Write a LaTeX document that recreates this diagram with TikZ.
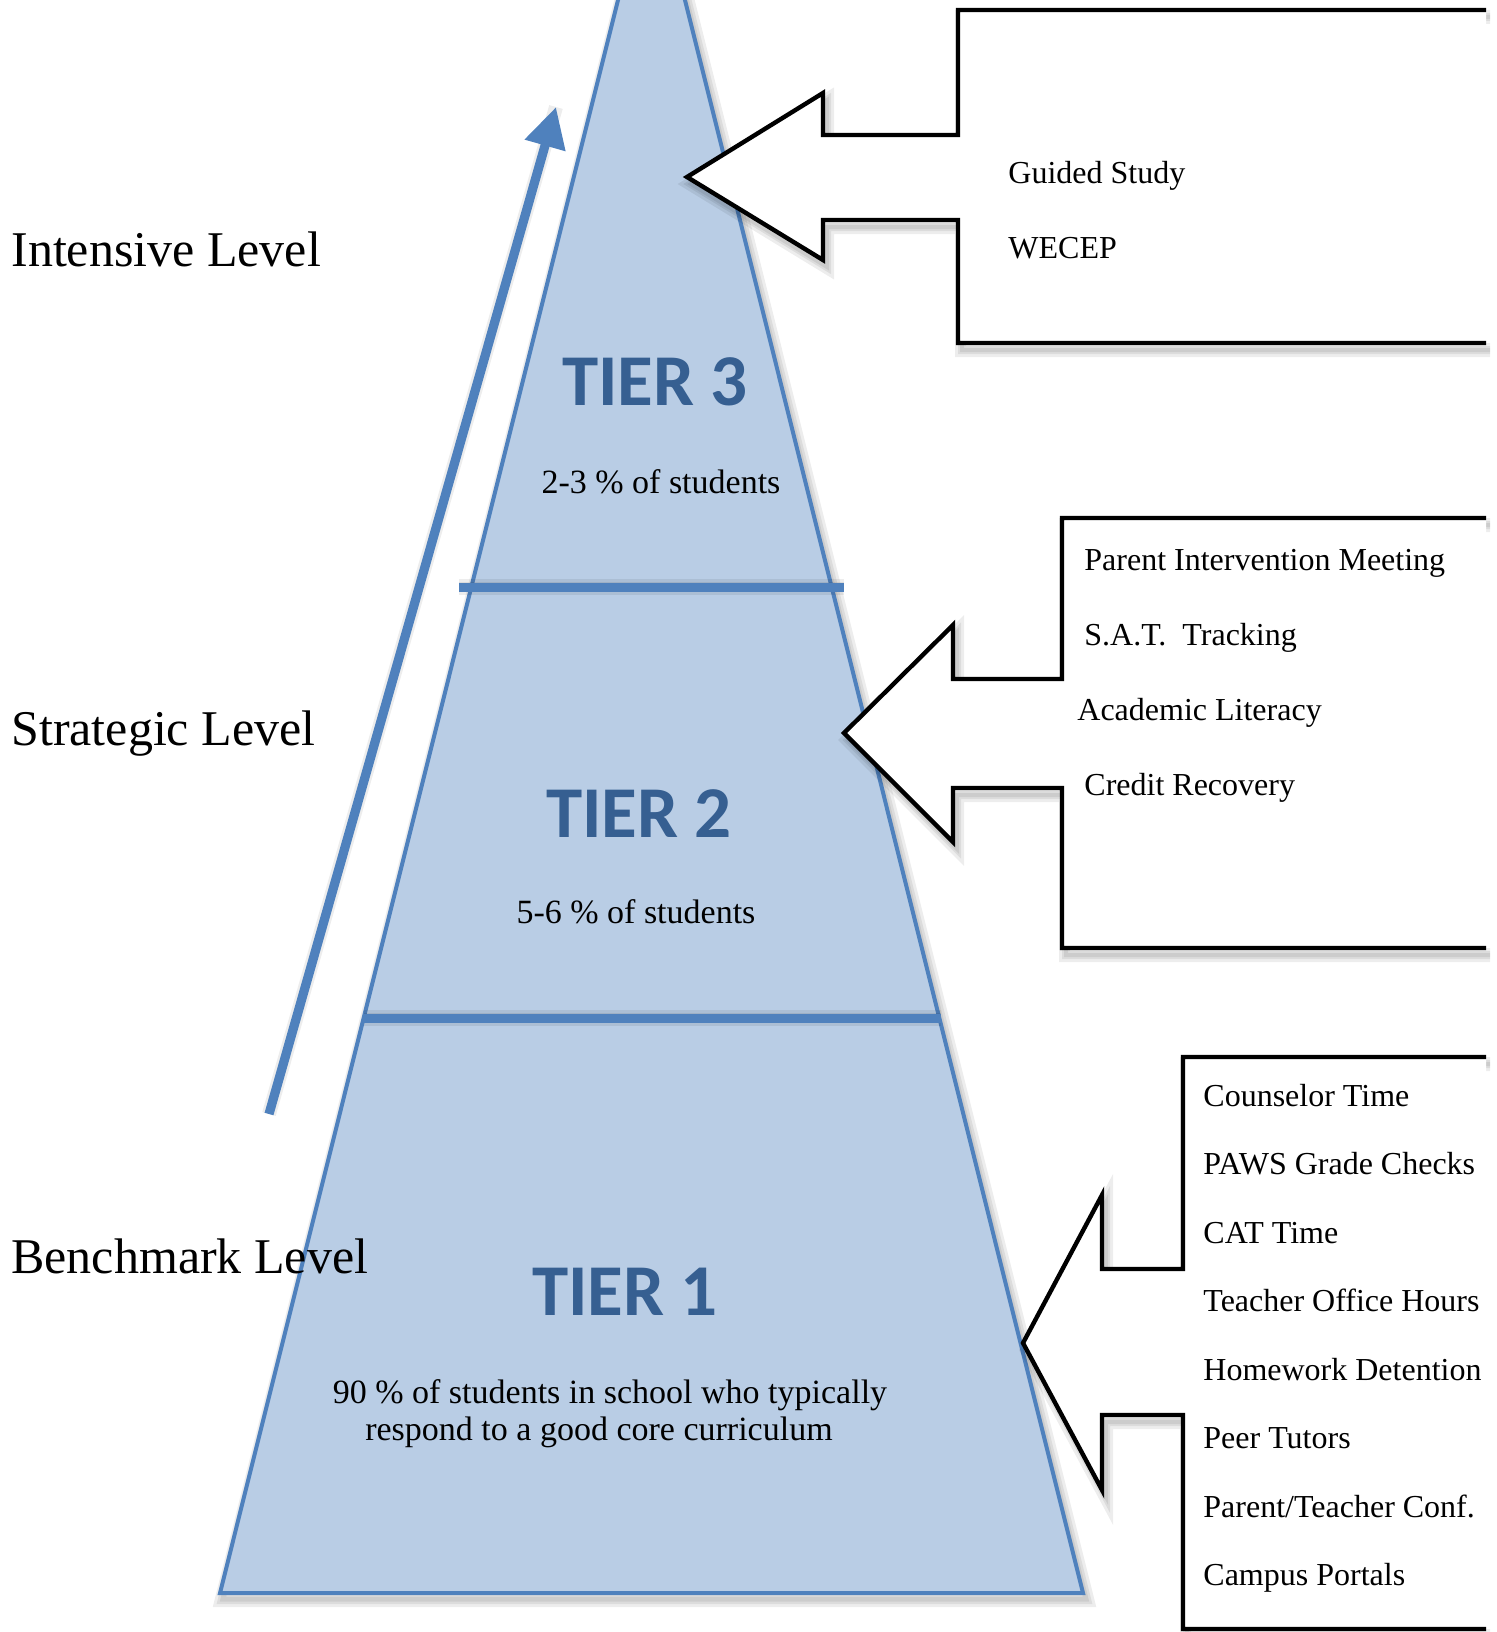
\documentclass[tikz,border=0pt]{standalone}
\usepackage{fontspec}
\setmainfont{Liberation Serif}
\newfontfamily\tierfont{Carlito}
\usetikzlibrary{arrows.meta}
\definecolor{pyrfill}{HTML}{B9CDE5}
\definecolor{pyredge}{HTML}{4F81BD}
\definecolor{tiertext}{HTML}{365F91}
\newcommand\calloutApath{(1486,10) -- (958,10) -- (958,135) -- (823,135) -- (823,93) -- (687,177) -- (823,260) -- (823,220) -- (958,220) -- (958,343) -- (1486,343)}
\newcommand\calloutBpath{(1486,518) -- (1062,518) -- (1062,679) -- (953,679) -- (953,625) -- (844,733) -- (953,842) -- (953,788) -- (1062,788) -- (1062,948) -- (1486,948)}
\newcommand\calloutCpath{(1486,1057) -- (1183,1057) -- (1183,1269) -- (1102,1269) -- (1102,1195) -- (1023,1343) -- (1102,1490) -- (1102,1415) -- (1183,1415) -- (1183,1629) -- (1486,1629)}
\begin{document}
\begin{tikzpicture}[x=0.5pt,y=-0.5pt,
  lvl/.style={anchor=base west, inner sep=0, font=\fontsize{25}{30}\selectfont},
  tier/.style={anchor=base, inner sep=0, text=tiertext, font=\tierfont\bfseries\fontsize{36.5}{44}\selectfont},
  pct/.style={anchor=base, inner sep=0, font=\fontsize{17}{20}\selectfont},
  item/.style={anchor=base west, inner sep=0, font=\fontsize{16}{19}\selectfont},
  callout/.style={draw=black, line width=2.2pt, fill=white, line join=miter},
  softshadow/.style={draw=black, opacity=0.07, line width=#1},
  divider/.style={draw=pyredge, line width=4.5pt},
 ]
\useasboundingbox (0,0) rectangle (1497,1632);
\clip (0,0) rectangle (1497,1632);

% pyramid shadow
\begin{scope}[shift={(3,6)}]
  \foreach \w in {8pt,5pt,2.5pt}
    \draw[softshadow=\w] (651.5,-134) -- (220,1593) -- (1083,1593) -- cycle;
\end{scope}
% pyramid
\path[fill=pyrfill, draw=pyredge, line width=2pt, line join=miter]
  (651.5,-134) -- (220,1593) -- (1083,1593) -- cycle;

% dividers
\coordinate (d1l) at (459,587);
\coordinate (d1r) at (844,587);
\coordinate (d2l) at (364,1018);
\coordinate (d2r) at (941,1018);
\begin{scope}[shift={(2,7)}]
  \foreach \w in {8pt,5pt}
    \draw[softshadow=\w] (d1l) -- (d1r) (d2l) -- (d2r);
\end{scope}
\draw[divider] (d1l) -- (d1r);
\draw[divider] (d2l) -- (d2r);

% rising arrow
\coordinate (arrtail) at (269,1114);
\coordinate (arrtip) at (556,107);
\begin{scope}[shift={(5,7)}]
  \draw[softshadow=7pt] (arrtail) -- (arrtip);
\end{scope}
\draw[pyredge, line width=4.6pt, -{Triangle[length=20pt,width=20pt]}] (arrtail) -- (arrtip);

% callouts
\begin{scope}[shift={(4,7)}]
  \foreach \w in {7pt,4pt,2pt} {
    \draw[softshadow=\w] \calloutApath;
    \draw[softshadow=\w] \calloutBpath;
    \draw[softshadow=\w] \calloutCpath;
  }
\end{scope}
\fill[white] \calloutApath -- cycle;
\draw[callout, fill=none] \calloutApath;
\fill[white] \calloutBpath -- cycle;
\draw[callout, fill=none] \calloutBpath;
\fill[white] \calloutCpath -- cycle;
\draw[callout, fill=none] \calloutCpath;

% level labels
\node[lvl] (intensive) at (11,266) {Intensive Level};
\node[lvl] (strategic) at (11,745) {Strategic Level};
\node[lvl] (benchmark) at (11,1273) {Benchmark Level};

% tiers
\node[tier] (tier3) at (655,405) {TIER 3};
\node[pct] (pct3) at (661,493) {2-3 \% of students};
\node[tier] (tier2) at (639,837) {TIER 2};
\node[pct] (pct2) at (636,923) {5-6 \% of students};
\node[tier] (tier1) at (625,1315) {TIER 1};
\node[pct] (pct1a) at (610,1403) {90 \% of students in school who typically};
\node[pct] (pct1b) at (599,1440) {respond to a good core curriculum};

% callout items
\node[item] (guided) at (1008,184) {Guided Study};
\node[item] (wecep) at (1008,258) {WECEP};

\node[item] (pim) at (1084,570) {Parent Intervention Meeting};
\node[item] (sat) at (1084,645) {S.A.T.\ \ Tracking};
\node[item] (acl) at (1077,720) {Academic Literacy};
\node[item] (credit) at (1084,795) {Credit Recovery};

\node[item] (couns) at (1203,1106) {Counselor Time};
\node[item] (paws) at (1203,1174) {PAWS Grade Checks};
\node[item] (cat) at (1203,1243) {CAT Time};
\node[item] (toh) at (1203,1311) {Teacher Office Hours};
\node[item] (hwd) at (1203,1380) {Homework Detention};
\node[item] (peer) at (1203,1448) {Peer Tutors};
\node[item] (ptc) at (1203,1517) {Parent/Teacher Conf.};
\node[item] (portals) at (1203,1585) {Campus Portals};
\end{tikzpicture}
\end{document}
